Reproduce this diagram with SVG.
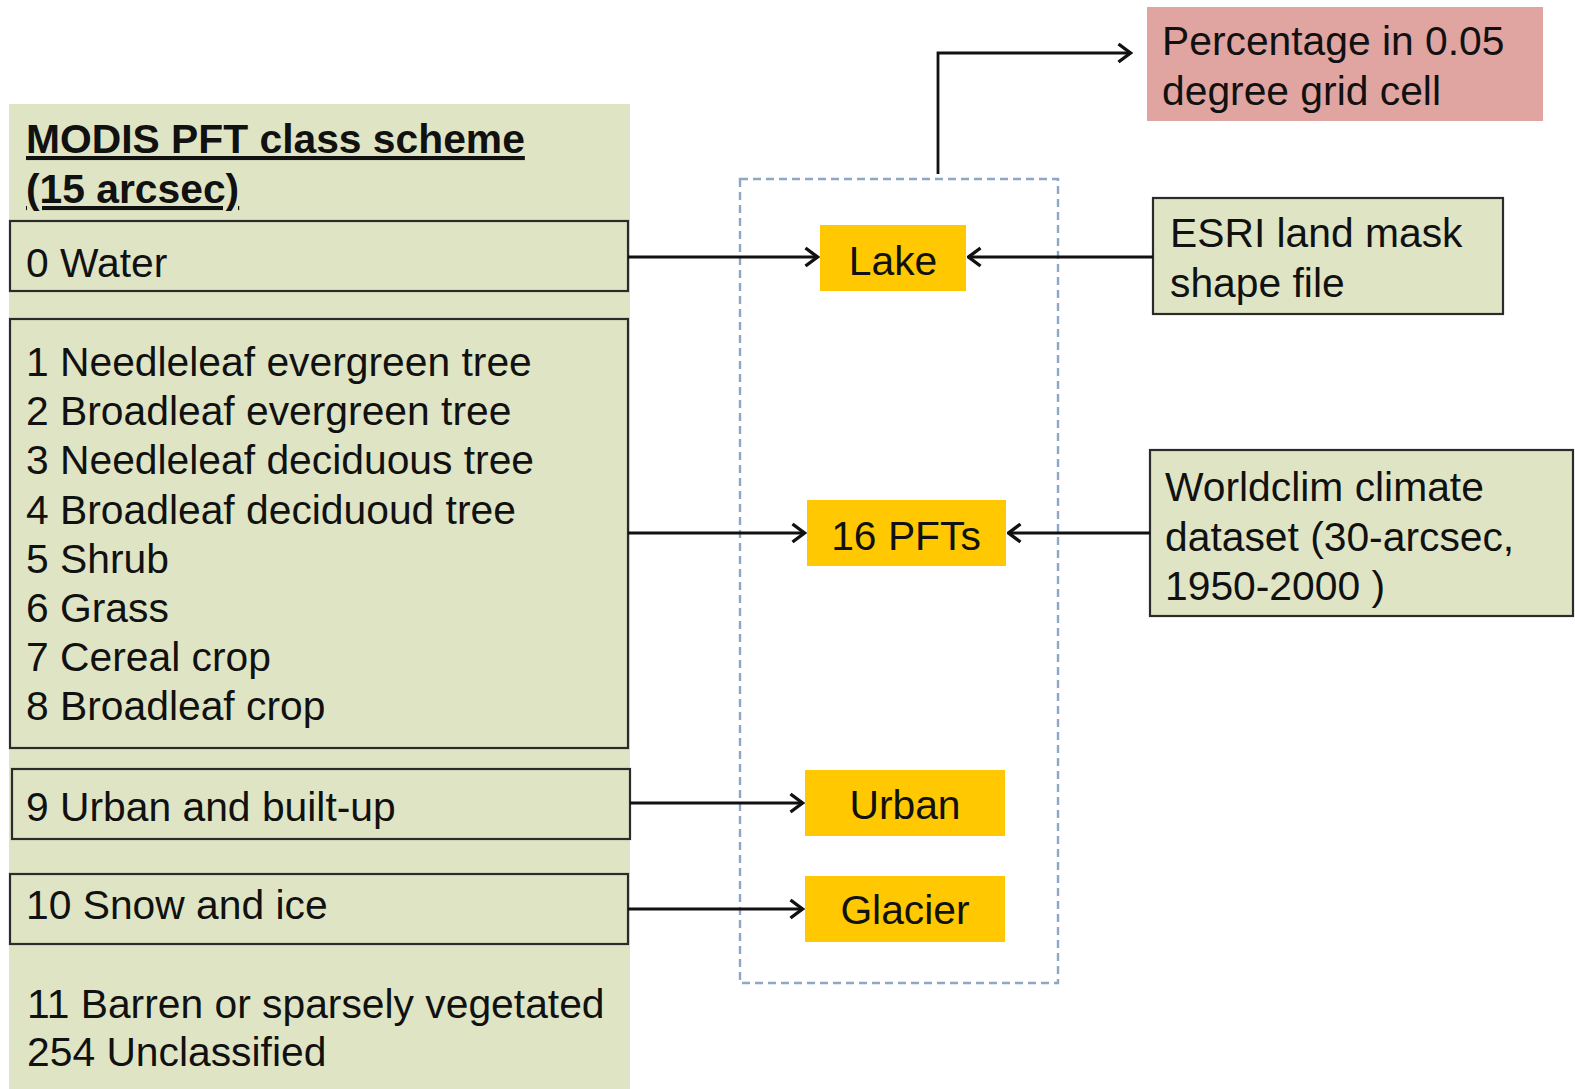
<svg xmlns="http://www.w3.org/2000/svg" width="1575" height="1089" viewBox="0 0 1575 1089">
<style>
  text { font-family: "Liberation Sans", Arial, sans-serif; font-size: 40.8px; fill: #111; }
  .title { font-weight: bold; text-decoration: underline; }
  .green { fill: #dfe5c4; stroke: #2b2b2b; stroke-width: 2.2; }
  .yellow { fill: #ffc800; }
  .pink { fill: #e0a4a1; }
  .mid { text-anchor: middle; }
  .conn { fill: none; stroke: #111; stroke-width: 2.8; marker-end: url(#arr); }
</style>
<defs>
  <marker id="arr" viewBox="0 0 16 22" refX="14.5" refY="11" markerWidth="16" markerHeight="22" orient="auto" markerUnits="userSpaceOnUse">
    <path d="M2,2 L14,11 L2,20" fill="none" stroke="#111" stroke-width="3.4"/>
  </marker>
</defs>
<rect width="1575" height="1089" fill="#ffffff"/>

<g id="modis-scheme">
  <rect x="9" y="104" width="621" height="990" fill="#dfe5c4"/>
  <text class="title" x="26" y="153">MODIS PFT class scheme</text>
  <text class="title" x="26" y="203">(15 arcsec)</text>
</g>

<g id="water">
  <rect class="green" x="10" y="221" width="618" height="70"/>
  <text x="26" y="277">0 Water</text>
</g>

<g id="veg-classes">
  <rect class="green" x="10" y="319" width="618" height="429"/>
  <text x="26" y="376">1 Needleleaf evergreen tree</text>
  <text x="26" y="425">2 Broadleaf evergreen tree</text>
  <text x="26" y="474">3 Needleleaf deciduous tree</text>
  <text x="26" y="524">4 Broadleaf deciduoud tree</text>
  <text x="26" y="573">5 Shrub</text>
  <text x="26" y="622">6 Grass</text>
  <text x="26" y="671">7 Cereal crop</text>
  <text x="26" y="720">8 Broadleaf crop</text>
</g>

<g id="urban-class">
  <rect class="green" x="12" y="769" width="618" height="70"/>
  <text x="26" y="821">9 Urban and built-up</text>
</g>

<g id="snow-class">
  <rect class="green" x="10" y="874" width="618" height="70"/>
  <text x="26" y="919">10 Snow and ice</text>
</g>

<g id="other-classes">
  <text x="27" y="1018">11 Barren or sparsely vegetated</text>
  <text x="27" y="1066">254 Unclassified</text>
</g>

<g id="output-group">
  <rect x="740" y="179" width="318" height="804" fill="none" stroke="#8fa7c6" stroke-width="2.4" stroke-dasharray="8,5"/>
</g>

<g id="lake">
  <rect class="yellow" x="820" y="225" width="146" height="66"/>
  <text class="mid" x="893" y="275">Lake</text>
</g>

<g id="pfts">
  <rect class="yellow" x="807" y="500" width="199" height="66"/>
  <text class="mid" x="906" y="550">16 PFTs</text>
</g>

<g id="urban">
  <rect class="yellow" x="805" y="770" width="200" height="66"/>
  <text class="mid" x="905" y="819">Urban</text>
</g>

<g id="glacier">
  <rect class="yellow" x="805" y="876" width="200" height="66"/>
  <text class="mid" x="905" y="924">Glacier</text>
</g>

<g id="percentage">
  <rect class="pink" x="1147" y="7" width="396" height="114"/>
  <text x="1162" y="55">Percentage in 0.05</text>
  <text x="1162" y="105">degree grid cell</text>
</g>

<g id="esri">
  <rect class="green" x="1153" y="198" width="350" height="116"/>
  <text x="1170" y="247">ESRI land mask</text>
  <text x="1170" y="297">shape file</text>
</g>

<g id="worldclim">
  <rect class="green" x="1150" y="450" width="423" height="166"/>
  <text x="1165" y="501">Worldclim climate</text>
  <text x="1165" y="551">dataset (30-arcsec,</text>
  <text x="1165" y="600">1950-2000 )</text>
</g>

<g id="connectors">
  <path class="conn" d="M628,257 H818"/>
  <path class="conn" d="M1153,257 H968"/>
  <path class="conn" d="M938,174 V53 H1131"/>
  <path class="conn" d="M628,533 H805"/>
  <path class="conn" d="M1150,533 H1008"/>
  <path class="conn" d="M630,803 H803"/>
  <path class="conn" d="M628,909 H803"/>
</g>
</svg>
